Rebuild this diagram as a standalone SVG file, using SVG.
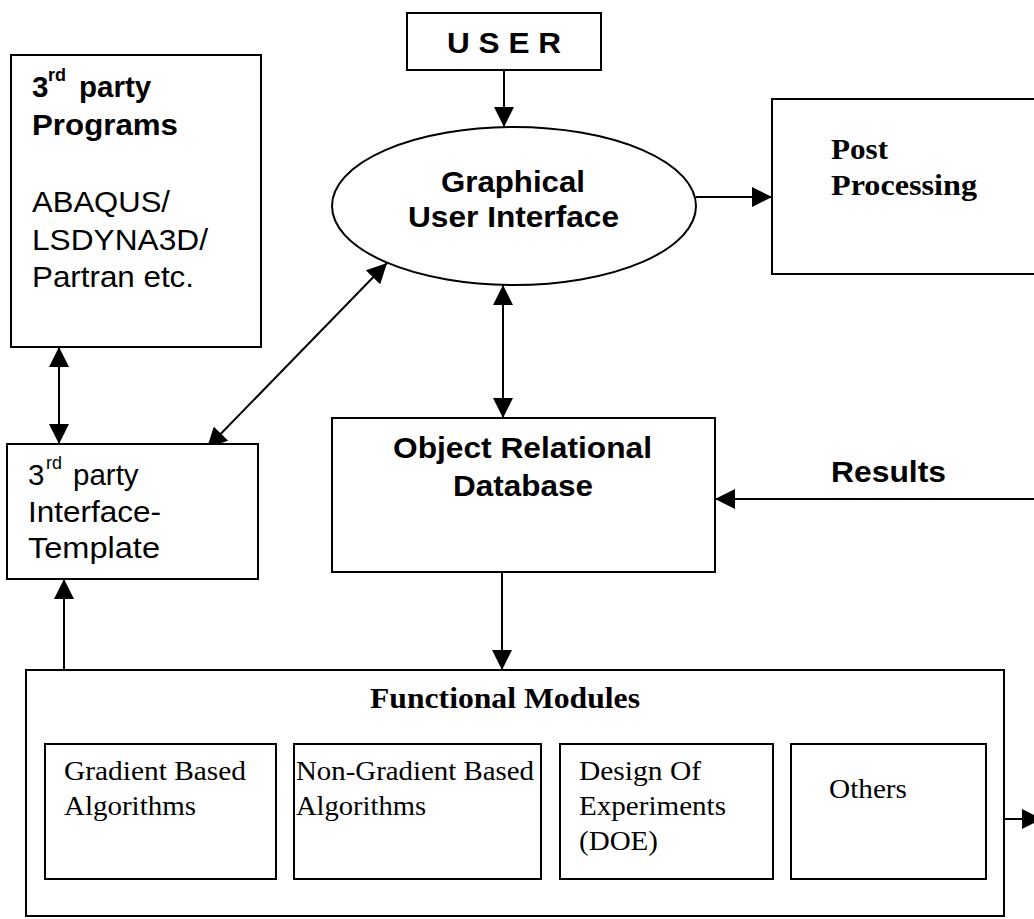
<svg xmlns="http://www.w3.org/2000/svg" width="1034" height="919" viewBox="0 0 1034 919">
<defs>
<marker id="ah" markerUnits="userSpaceOnUse" markerWidth="20" markerHeight="20" refX="20" refY="10" orient="auto-start-reverse" viewBox="0 0 20 20">
<path d="M0,0 L20,10 L0,20 z" fill="#000"/>
</marker>
<style>
.box{fill:#fff;stroke:#000;stroke-width:2}
.ell{fill:#fff;stroke:#000;stroke-width:2}
.con{fill:none;stroke:#000;stroke-width:2}
.sb{font-family:"Liberation Sans",Arial,sans-serif;font-weight:bold;font-size:29.5px;fill:#000}
.sr{font-family:"Liberation Sans",Arial,sans-serif;font-size:29.5px;fill:#000}
.tb{font-family:"Liberation Serif","Times New Roman",serif;font-weight:bold;font-size:30px;fill:#000}
.tr{font-family:"Liberation Serif","Times New Roman",serif;font-size:28px;fill:#000}
.sup{font-size:18px}
</style>
</defs>
<rect width="1034" height="919" fill="#fff"/>

<g id="connectors">
<line class="con" x1="504" y1="70" x2="504" y2="127" marker-end="url(#ah)"/>
<line class="con" x1="696" y1="197" x2="772" y2="197" marker-end="url(#ah)"/>
<line class="con" x1="503" y1="285" x2="503" y2="418" marker-start="url(#ah)" marker-end="url(#ah)"/>
<line class="con" x1="387" y1="263" x2="207" y2="448" marker-start="url(#ah)" marker-end="url(#ah)"/>
<line class="con" x1="59" y1="347" x2="59" y2="444" marker-start="url(#ah)" marker-end="url(#ah)"/>
<line class="con" x1="1040" y1="499" x2="715" y2="499" marker-end="url(#ah)"/>
<line class="con" x1="502" y1="572" x2="502" y2="670" marker-end="url(#ah)"/>
<line class="con" x1="64" y1="670" x2="64" y2="579" marker-end="url(#ah)"/>
<line class="con" x1="1004" y1="819" x2="1042" y2="819" marker-end="url(#ah)"/>
</g>

<g id="user">
<rect class="box" x="407" y="13" width="194" height="57"/>
<text class="sb" x="447" y="53" textLength="114" lengthAdjust="spacingAndGlyphs">U S E R</text>
</g>

<g id="gui">
<ellipse class="ell" cx="514" cy="206" rx="182" ry="79"/>
<text class="sb" x="441" y="192" textLength="144" lengthAdjust="spacingAndGlyphs">Graphical</text>
<text class="sb" x="408" y="227" textLength="211" lengthAdjust="spacingAndGlyphs">User Interface</text>
</g>

<g id="post-processing">
<rect class="box" x="772" y="99" width="300" height="175"/>
<text class="tb" x="831" y="159" textLength="57" lengthAdjust="spacingAndGlyphs">Post</text>
<text class="tb" x="831" y="195" textLength="146" lengthAdjust="spacingAndGlyphs">Processing</text>
</g>

<g id="third-party-programs">
<rect class="box" x="11" y="55" width="250" height="292"/>
<text class="sb"><tspan x="32" y="97">3</tspan><tspan class="sup" x="48" y="81">rd</tspan><tspan x="79" y="97">party</tspan></text>
<text class="sb" x="32" y="135" textLength="146" lengthAdjust="spacingAndGlyphs">Programs</text>
<text class="sr" x="32" y="212" textLength="138" lengthAdjust="spacingAndGlyphs">ABAQUS/</text>
<text class="sr" x="32" y="250" textLength="176" lengthAdjust="spacingAndGlyphs">LSDYNA3D/</text>
<text class="sr" x="32" y="287" textLength="162" lengthAdjust="spacingAndGlyphs">Partran etc.</text>
</g>

<g id="interface-template">
<rect class="box" x="7" y="444" width="251" height="135"/>
<text class="sr"><tspan x="28" y="485">3</tspan><tspan class="sup" x="46" y="469">rd</tspan><tspan x="73" y="485">party</tspan></text>
<text class="sr" x="28" y="522" textLength="133" lengthAdjust="spacingAndGlyphs">Interface-</text>
<text class="sr" x="28" y="558" textLength="132" lengthAdjust="spacingAndGlyphs">Template</text>
</g>

<g id="database">
<rect class="box" x="332" y="418" width="383" height="154"/>
<text class="sb" x="393" y="458" textLength="259" lengthAdjust="spacingAndGlyphs">Object Relational</text>
<text class="sb" x="453" y="496" textLength="140" lengthAdjust="spacingAndGlyphs">Database</text>
</g>

<g id="results-label">
<text class="sb" x="831" y="482" textLength="115" lengthAdjust="spacingAndGlyphs">Results</text>
</g>

<g id="functional-modules">
<rect class="box" x="26" y="670" width="978" height="246"/>
<text class="tb" x="370" y="708" textLength="270" lengthAdjust="spacingAndGlyphs">Functional Modules</text>
</g>

<g id="gradient">
<rect class="box" x="45" y="744" width="231" height="135"/>
<text class="tr" x="64" y="780" textLength="182" lengthAdjust="spacingAndGlyphs">Gradient Based</text>
<text class="tr" x="64" y="815" textLength="132" lengthAdjust="spacingAndGlyphs">Algorithms</text>
</g>

<g id="non-gradient">
<rect class="box" x="294" y="744" width="247" height="135"/>
<text class="tr" x="296" y="780" textLength="238" lengthAdjust="spacingAndGlyphs">Non-Gradient Based</text>
<text class="tr" x="296" y="815" textLength="130" lengthAdjust="spacingAndGlyphs">Algorithms</text>
</g>

<g id="doe">
<rect class="box" x="560" y="744" width="213" height="135"/>
<text class="tr" x="579" y="780" textLength="122" lengthAdjust="spacingAndGlyphs">Design Of</text>
<text class="tr" x="579" y="815" textLength="147" lengthAdjust="spacingAndGlyphs">Experiments</text>
<text class="tr" x="579" y="850" textLength="79" lengthAdjust="spacingAndGlyphs">(DOE)</text>
</g>

<g id="others">
<rect class="box" x="791" y="744" width="195" height="135"/>
<text class="tr" x="829" y="798" textLength="78" lengthAdjust="spacingAndGlyphs">Others</text>
</g>
</svg>
